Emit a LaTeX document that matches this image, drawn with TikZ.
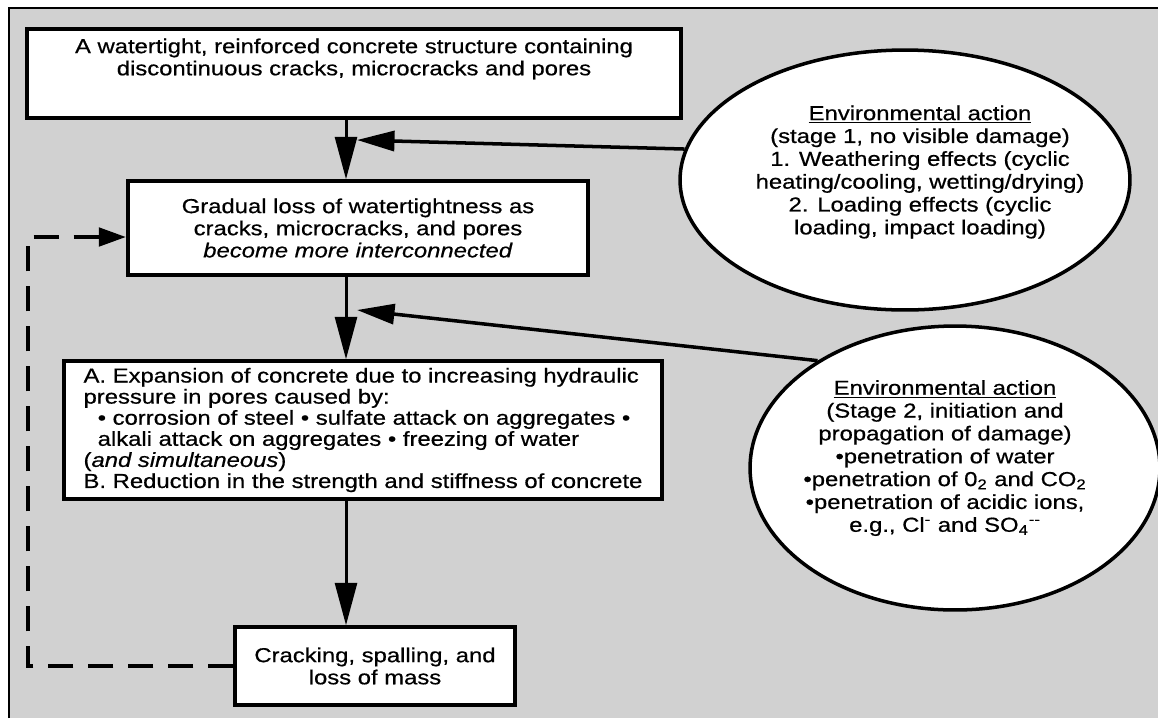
\documentclass[tikz,border=0pt]{standalone}
\usepackage{fontspec}
\setmainfont{Liberation Sans}[FakeStretch=1.18, FakeBold=0.6]
\usetikzlibrary{arrows.meta, shapes.geometric}

\tikzset{
  stagebox/.style={draw, line width=2pt, fill=white, inner sep=0pt, align=center,
    font=\fontsize{11.5}{12.6}\selectfont},
  envoval/.style={draw, ellipse, line width=2pt, fill=white, inner sep=0pt},
  envtext/.style={align=center, font=\fontsize{11.5}{13}\selectfont},
  flow/.style={line width=1.7pt, -{Triangle[length=0.85cm, width=0.44cm]}},
  feed/.style={line width=2pt, -{Triangle[length=0.75cm, width=0.4cm]}},
  dashback/.style={line width=2.8pt, dash pattern=on 0.5cm off 0.3cm,
    -{Triangle[length=0.55cm, width=0.36cm]}},
}

\begin{document}
\begin{tikzpicture}[x=0.02cm, y=-0.02cm]
  \useasboundingbox (0,0) rectangle (1158,718);
  % Background and frame
  \fill[black!18] (9,8) rectangle (1158,718);
  \draw[line width=1.2pt] (9,718) -- (9,8) -- (1158,8);

  % Process boxes
  \node[stagebox, minimum width=13.08cm, minimum height=1.78cm, text depth=0.665cm] (intact) at (354,73.5)
    {A watertight, reinforced concrete structure containing\\discontinuous cracks, microcracks and pores};
  \node[stagebox, minimum width=9.2cm, minimum height=1.88cm] (leaking) at (358,228)
    {Gradual loss of watertightness as\\cracks, microcracks, and pores\\\textit{become more interconnected}};
  \node[stagebox, align=left, font=\fontsize{11.5}{12}\selectfont,
        minimum width=11.96cm, minimum height=2.76cm] (expansion) at (363,430)
    {A. Expansion of concrete due to increasing hydraulic\\
     pressure in pores caused by:\\
     \hspace*{0.7em}• corrosion of steel • sulfate attack on aggregates •\\
     \hspace*{0.7em}alkali attack on aggregates • freezing of water\\
     (\textit{and simultaneous})\\
     B. Reduction in the strength and stiffness of concrete};
  \node[stagebox, minimum width=5.6cm, minimum height=1.56cm] (loss) at (375,666)
    {Cracking, spalling, and\\loss of mass};

  % Environmental actions
  \node[envoval, minimum width=9cm, minimum height=5.2cm] (stage1) at (905,180) {};
  \node[envtext] (stage1txt) at (920,172)
    {\underline{Environmental action}\\(stage 1, no visible damage)\\1. Weathering effects (cyclic\\
     heating/cooling, wetting/drying)\\2. Loading effects (cyclic\\loading, impact loading)};
  \node[envoval, minimum width=8.2cm, minimum height=5.68cm] (stage2) at (955,468) {};
  \node[envtext] (stage2txt) at (945,458)
    {\underline{Environmental action}\\(Stage 2, initiation and\\propagation of damage)\\
     •penetration of water\\•penetration of 0\textsubscript{2} and CO\textsubscript{2}\\
     •penetration of acidic ions,\\e.g., Cl\textsuperscript{-} and SO\textsubscript{4}\textsuperscript{-{}-}};

  % Main sequence
  \coordinate (spine) at (346,0);
  \draw[flow] (intact.south -| spine) -- (leaking.north -| spine);
  \draw[flow] (leaking.south -| spine) -- (expansion.north -| spine);
  \draw[flow] (expansion.south -| spine) -- (loss.north -| spine);

  % Environmental inputs
  \coordinate (hit1) at (357,140);
  \coordinate (hit2) at (357,310);
  \draw[feed] (stage1.172) -- (hit1);
  \draw[feed] (stage2.142) -- (hit2);

  % Feedback from damage
  \coordinate (rail) at (28,0);
  \coordinate (backin) at ([yshift=-0.18cm]leaking.west);
  \draw[dashback] (loss.west) -- (loss.west -| rail) -- (backin -| rail) -- (backin);
\end{tikzpicture}
\end{document}
